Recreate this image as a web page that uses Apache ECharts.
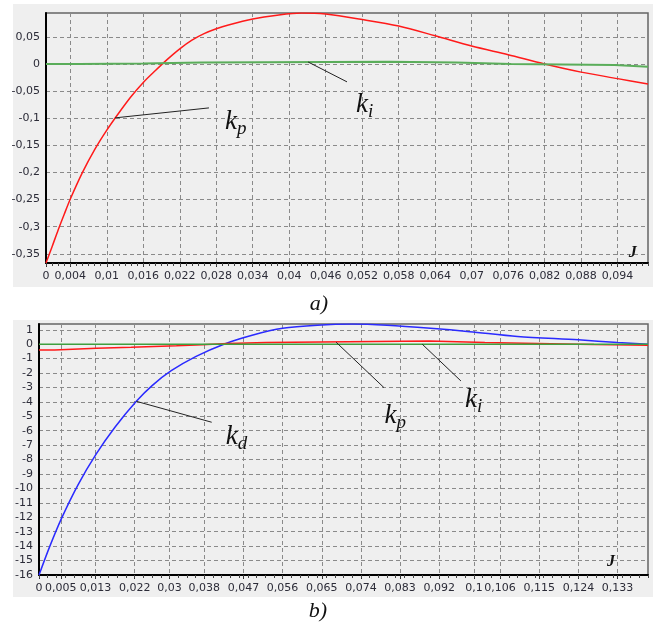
<!DOCTYPE html>
<html>
<head>
<meta charset="utf-8">
<script src="https://cdn.jsdelivr.net/npm/echarts@6/dist/echarts.min.js"></script>
<style>
html, body { margin: 0; padding: 0; background: #fff; }
#chart { width: 656px; height: 622px; }
</style>
</head>
<body>
<div id="chart"></div>
<script>
// ---- a) kp, ki against J ----
const xTicksA = [0, 0.004, 0.01, 0.016, 0.022, 0.028, 0.034, 0.04, 0.046, 0.052, 0.058, 0.064, 0.07, 0.076, 0.082, 0.088, 0.094]
const yTicksA = [0.05, 0, -0.05, -0.1, -0.15, -0.2, -0.25, -0.3, -0.35]
const kpA = [[0, -0.367], [0.001, -0.337], [0.002, -0.306], [0.003, -0.277], [0.004, -0.249], [0.006, -0.2], [0.008, -0.158],
  [0.01, -0.122], [0.012, -0.09], [0.014, -0.06], [0.016, -0.034], [0.018, -0.012], [0.02, 0.009], [0.022, 0.028],
  [0.024, 0.044], [0.026, 0.056], [0.028, 0.065], [0.03, 0.072], [0.034, 0.083], [0.038, 0.09], [0.042, 0.094],
  [0.046, 0.092], [0.052, 0.082], [0.058, 0.07], [0.064, 0.052], [0.07, 0.033], [0.076, 0.017], [0.082, 0],
  [0.088, -0.015], [0.094, -0.027], [0.099, -0.037]]
const kiA = [[0, 0], [0.0055, 0], [0.0056, 0.001], [0.016, 0.001], [0.0161, 0.0025], [0.0255, 0.0025], [0.0256, 0.004],
  [0.0565, 0.004], [0.0566, 0.0025], [0.0675, 0.0025], [0.0676, 0], [0.0765, 0], [0.0766, -0.002], [0.0935, -0.002],
  [0.0936, -0.005], [0.099, -0.005]]

// ---- b) kd, kp, ki against J ----
const xTicksB = [0, 0.005, 0.013, 0.022, 0.03, 0.038, 0.047, 0.056, 0.065, 0.074, 0.083, 0.092, 0.1, 0.106, 0.115, 0.124, 0.133]
const yTicksB = [1, 0, -1, -2, -3, -4, -5, -6, -7, -8, -9, -10, -11, -12, -13, -14, -15, -16]
const kdB = [[0, -16], [0.0025, -14], [0.00515, -12.09], [0.009, -9.73], [0.0132, -7.59], [0.0175, -5.74], [0.02238, -3.96],
  [0.026, -2.87], [0.0304, -1.84], [0.036, -0.86], [0.0425, 0], [0.049, 0.62], [0.056, 1.1], [0.064, 1.32],
  [0.072, 1.4], [0.08, 1.32], [0.09, 1.11], [0.099, 0.87], [0.11, 0.53], [0.124, 0.3], [0.133, 0.11], [0.14, 0]]
const kpB = [[0, -0.4], [0.0036, -0.4], [0.0037, -0.28], [0.0132, -0.28], [0.0133, -0.21], [0.0212, -0.21],
  [0.0213, -0.1], [0.0316, -0.1], [0.0317, -0.03], [0.0375, -0.03], [0.0376, 0.04], [0.0434, 0.04], [0.0435, 0.11],
  [0.0522, 0.11], [0.0523, 0.23], [0.0897, 0.23], [0.0898, 0.11], [0.1025, 0.11], [0.1026, 0.02], [0.1207, 0.02],
  [0.1208, -0.02], [0.1276, -0.02], [0.1277, -0.07], [0.14, -0.07]]
const kiB = [[0, 0], [0.14, 0]]

// leader lines and their labels, in data units
const leadersA = [[[0.01134, -0.0994], [0.0268, -0.081]], [[0.0431, 0.0037], [0.0495, -0.033]]]
const namesA = [['k', 'p', [0.0312, -0.107]], ['k', 'i', [0.0524, -0.0755]]]
const leadersB = [[[0.02238, -3.96], [0.0397, -5.41]], [[0.0683, 0.139], [0.0793, -3.01]], [[0.0881, 0], [0.097, -2.55]]]
const namesB = [['k', 'd', [0.0454, -6.43]], ['k', 'p', [0.0819, -4.97]], ['k', 'i', [0.0999, -3.86]]]

const fmt = v => String(v).replace('.', ',')
const gridLine = { show: true, lineStyle: { color: '#8a8a8a', type: [4, 3], width: 1 } }
const lbl = { color: '#2c2c38', fontFamily: 'DejaVu Sans', fontSize: 11, formatter: fmt }
const serif = { fontFamily: 'Liberation Serif', fontStyle: 'italic', color: '#111' }

function mainX(grid, max, ticks) {
  return {
    type: 'value', gridIndex: grid, min: 0, max: max,
    axisLine: { onZero: false, lineStyle: { color: '#000', width: 2 } },
    axisTick: { show: true, customValues: ticks, length: 4, lineStyle: { color: '#333' } },
    axisLabel: { ...lbl, customValues: ticks, margin: 8 },
    splitLine: gridLine
  }
}
function mainY(grid, min, max, ticks, margin) {
  return {
    type: 'value', gridIndex: grid, min: min, max: max,
    axisLine: { show: true, onZero: false, lineStyle: { color: '#000', width: 2 } },
    axisTick: { show: false, customValues: ticks },
    axisLabel: { ...lbl, customValues: ticks, margin: margin },
    splitLine: gridLine
  }
}
function minorX(grid, max, step) {
  return {
    type: 'value', gridIndex: grid, min: 0, max: max, interval: step,
    axisLine: { show: false }, axisLabel: { show: false }, splitLine: { show: false },
    axisTick: { show: true, length: 3, lineStyle: { color: '#444' } }
  }
}
function hiddenY(grid) {
  return { type: 'value', gridIndex: grid, min: 0, max: 1, show: false }
}
function notes(lines, names) {
  return {
    markLine: {
      silent: true, symbol: ['none', 'none'], animation: false,
      lineStyle: { color: '#222', width: 1, type: 'solid' }, label: { show: false },
      data: lines.map(l => [{ coord: l[0] }, { coord: l[1] }])
    },
    markPoint: {
      silent: true, symbol: 'circle', symbolSize: 0, animation: false,
      label: {
        show: true, position: 'inside',
        rich: {
          k: { ...serif, fontSize: 27 },
          s: { ...serif, fontSize: 19, padding: [14, 0, 0, 0] }
        }
      },
      data: names.map(n => ({ coord: n[2], value: 0, label: { formatter: `{k|${n[0]}}{s|${n[1]}}` } }))
    }
  }
}
function jLabel(coord) {
  return {
    coord: coord, value: 0,
    label: { formatter: 'J', ...serif, fontSize: 16, fontWeight: 'bold' }
  }
}

const chart = echarts.init(document.getElementById('chart'))
chart.setOption({
  animation: false,
  backgroundColor: '#fff',
  graphic: [
    { type: 'rect', z: -10, shape: { x: 13, y: 4, width: 640, height: 283 }, style: { fill: '#efefef' } },
    { type: 'rect', z: -10, shape: { x: 13, y: 320, width: 640, height: 277 }, style: { fill: '#efefef' } },
    { type: 'text', x: 319, y: 304, style: { text: 'a)', font: 'italic 22px "Liberation Serif"', fill: '#111', align: 'center', verticalAlign: 'middle' } },
    { type: 'text', x: 318, y: 611, style: { text: 'b)', font: 'italic 22px "Liberation Serif"', fill: '#111', align: 'center', verticalAlign: 'middle' } }
  ],
  grid: [
    { left: 46, top: 13, width: 602, height: 250, show: true, backgroundColor: '#efefef', borderColor: '#666', borderWidth: 1.5 },
    { left: 39, top: 324, width: 609, height: 251, show: true, backgroundColor: '#efefef', borderColor: '#666', borderWidth: 1.5 },
    { left: 46, top: 13, width: 602, height: 250 },
    { left: 39, top: 324, width: 609, height: 251 }
  ],
  xAxis: [mainX(0, 0.099, xTicksA), mainX(1, 0.14, xTicksB), minorX(2, 0.099, 0.001), minorX(3, 0.14, 0.002)],
  yAxis: [mainY(0, -0.367, 0.094, yTicksA, 6), mainY(1, -16, 1.4, yTicksB, 6), hiddenY(2), hiddenY(3)],
  series: [
    { name: 'kp a', type: 'line', xAxisIndex: 0, yAxisIndex: 0, data: kpA, showSymbol: false, smooth: 0.3,
      lineStyle: { color: '#ff1a1a', width: 1.5 } },
    { name: 'ki a', type: 'line', xAxisIndex: 0, yAxisIndex: 0, data: kiA, showSymbol: false,
      lineStyle: { color: '#5aad5a', width: 2 }, ...notes(leadersA, namesA) },
    { name: 'kd b', type: 'line', xAxisIndex: 1, yAxisIndex: 1, data: kdB, showSymbol: false, smooth: 0.3,
      lineStyle: { color: '#2a2aff', width: 1.5 } },
    { name: 'kp b', type: 'line', xAxisIndex: 1, yAxisIndex: 1, data: kpB, showSymbol: false,
      lineStyle: { color: '#ff1a1a', width: 1.5 } },
    { name: 'ki b', type: 'line', xAxisIndex: 1, yAxisIndex: 1, data: kiB, showSymbol: false,
      lineStyle: { color: '#3f9f3f', width: 1.5 }, ...notes(leadersB, namesB) },
    { name: 'J a', type: 'scatter', xAxisIndex: 0, yAxisIndex: 0, data: [],
      markPoint: { symbol: 'circle', symbolSize: 0, label: { show: true, position: 'inside' }, data: [jLabel([0.0965, -0.348])] } },
    { name: 'J b', type: 'scatter', xAxisIndex: 1, yAxisIndex: 1, data: [],
      markPoint: { symbol: 'circle', symbolSize: 0, label: { show: true, position: 'inside' }, data: [jLabel([0.1315, -15.08])] } }
  ]
})
</script>
</body>
</html>
